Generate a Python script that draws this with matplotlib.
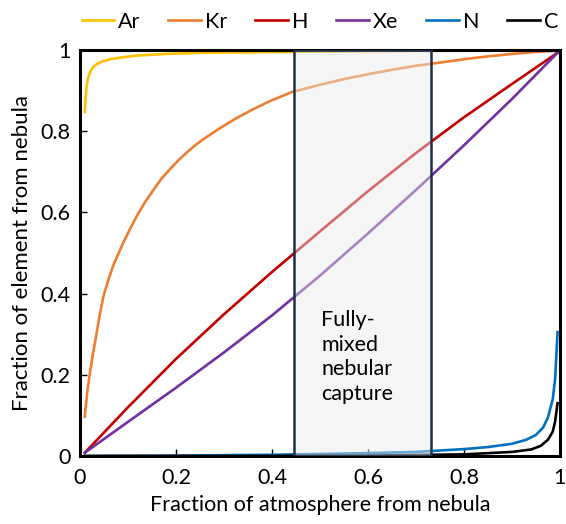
import matplotlib.pyplot as plt
from matplotlib.patches import Rectangle

plt.rcParams['font.family'] = ['Lato', 'DejaVu Sans']

# 数据
x_ar = [0.01, 0.012, 0.014, 0.017, 0.021, 0.027, 0.035, 0.045, 0.063, 0.09, 0.118, 0.18,
        0.257, 0.35, 0.44, 0.6, 0.8, 0.995]
ar = [0.847, 0.885, 0.912, 0.932, 0.945, 0.957, 0.965, 0.971, 0.977, 0.982, 0.986, 0.99,
      0.993, 0.994, 0.995, 0.997, 0.998, 0.999]

x_kr = [0.01, 0.015, 0.021, 0.028, 0.035, 0.042, 0.049, 0.059, 0.069, 0.08, 0.09, 0.104,
        0.118, 0.135, 0.153, 0.17, 0.188, 0.205, 0.222, 0.24, 0.257, 0.29, 0.326, 0.361,
        0.396, 0.441, 0.5, 0.55, 0.6, 0.65, 0.7, 0.733, 0.8, 0.85, 0.9, 0.95, 0.995]
kr = [0.097, 0.155, 0.207, 0.258, 0.305, 0.352, 0.394, 0.433, 0.468, 0.498, 0.525, 0.558,
      0.59, 0.624, 0.655, 0.683, 0.707, 0.728, 0.747, 0.765, 0.78, 0.806, 0.832, 0.854,
      0.874, 0.896, 0.914, 0.928, 0.94, 0.951, 0.961, 0.966, 0.977, 0.984, 0.99, 0.995, 0.998]

x_lin = [0.01, 0.1, 0.2, 0.3, 0.4, 0.5, 0.6, 0.7, 0.8, 0.9, 0.995]
h = [0.008, 0.12, 0.239, 0.349, 0.453, 0.553, 0.652, 0.746, 0.834, 0.916, 0.993]
xe = [0.008, 0.084, 0.168, 0.255, 0.346, 0.444, 0.548, 0.655, 0.765, 0.879, 0.993]

x_n = [0.01, 0.2, 0.4, 0.5, 0.6, 0.7, 0.8, 0.85, 0.9, 0.93, 0.95, 0.965, 0.975, 0.985,
       0.99, 0.995]
n = [0.0, 0.001, 0.003, 0.005, 0.007, 0.01, 0.017, 0.022, 0.03, 0.04, 0.052, 0.07, 0.095,
     0.14, 0.19, 0.305]
x_c = [0.01, 0.4, 0.6, 0.8, 0.9, 0.94, 0.96, 0.975, 0.985, 0.99, 0.995]
c = [0.0, 0.0, 0.001, 0.004, 0.01, 0.016, 0.025, 0.04, 0.06, 0.085, 0.13]

labels = ['Ar', 'Kr', 'H', 'Xe', 'N', 'C']
colors = ['#FFC000', '#ED7D31', '#C00000', '#7030A0', '#0070C0', '#000000']

# 混合区间
mix_lo, mix_hi = 0.445, 0.731

fig = plt.figure(figsize=(5.66, 5.24), dpi=100)
ax = fig.add_axes([0.1413, 0.1298, 0.848, 0.775])

series = [(x_ar, ar), (x_kr, kr), (x_lin, h), (x_lin, xe), (x_n, n), (x_c, c)]
for (xs, ys), lab, col in zip(series, labels, colors):
    ax.plot(xs, ys, color=col, lw=1.9, label=lab, solid_joinstyle='round', zorder=2)

# 半透明矩形
ax.add_patch(Rectangle((mix_lo, 0), mix_hi - mix_lo, 1, facecolor='#ebebeb', alpha=0.45,
                       edgecolor='none', zorder=3))
ax.add_patch(Rectangle((mix_lo, 0), mix_hi - mix_lo, 1, facecolor='none',
                       edgecolor='#1F2F4A', lw=1.8, zorder=4))
ax.text(0.503, 0.36, 'Fully-\nmixed\nnebular\ncapture', fontsize=15.5, va='top', ha='left',
        linespacing=1.3, zorder=5)

ax.set_xlim(0, 1)
ax.set_ylim(0, 1)
ax.set_xticks([0, 0.2, 0.4, 0.6, 0.8, 1])
ax.set_xticklabels(['0', '0.2', '0.4', '0.6', '0.8', '1'])
ax.set_yticks([0, 0.2, 0.4, 0.6, 0.8, 1])
ax.set_yticklabels(['0', '0.2', '0.4', '0.6', '0.8', '1'])
ax.tick_params(direction='in', length=5, width=1, labelsize=15.5)
ax.tick_params(axis='x', pad=9)
ax.tick_params(axis='y', pad=7)
for sp in ax.spines.values():
    sp.set_linewidth(2.2)
ax.set_xlabel('Fraction of atmosphere from nebula', fontsize=15.5, labelpad=5)
ax.set_ylabel('Fraction of element from nebula', fontsize=16, labelpad=6)

ax.legend(loc='lower center', bbox_to_anchor=(0.5, 1.0), ncol=6, frameon=False,
          fontsize=15.5, handlelength=1.5, handletextpad=0.2, columnspacing=1.3,
          borderaxespad=0.45)

fig.savefig('out.png', dpi=100)
